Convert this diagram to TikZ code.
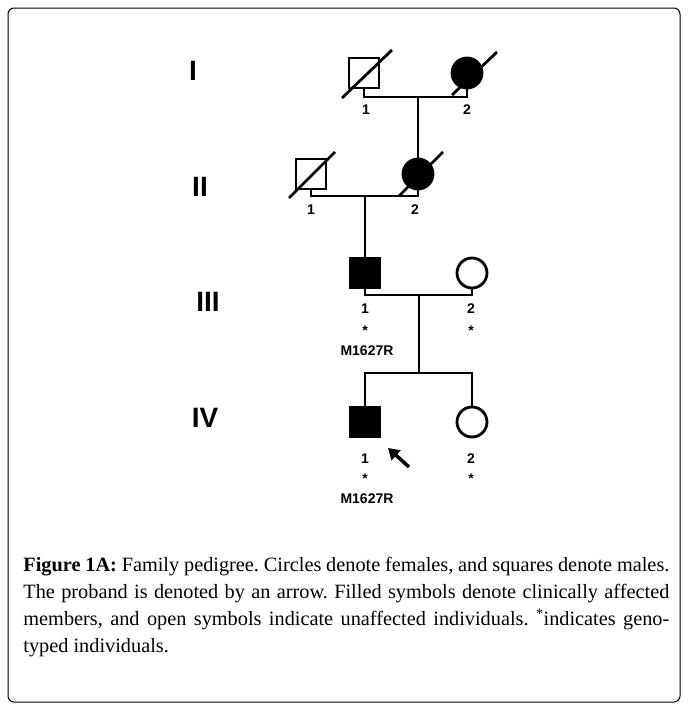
\documentclass[tikz,border=0pt]{standalone}
\usepackage{fontspec}
\usetikzlibrary{arrows.meta}
\setmainfont{Liberation Serif}
\newfontfamily\lsans{Liberation Sans}
\begin{document}
\begin{tikzpicture}[x=1pt,y=-1pt,line width=2.8pt,
  male/.style={draw,minimum size=30pt,inner sep=0pt,line width=2.8pt},
  female/.style={draw,circle,minimum size=30pt,inner sep=0pt,line width=2.8pt},
  gen/.style={font=\lsans\bfseries\fontsize{28}{28}\selectfont},
  lab/.style={font=\lsans\bfseries\fontsize{14}{14}\selectfont,inner sep=0pt},
  slash/.style={line width=2.8pt}]
\useasboundingbox (0,0) rectangle (688,712);
\draw[line width=1pt,rounded corners=6pt] (8,8) rectangle (680,702);
% generation labels
\node[gen] (gI) at (193,71) {I};
\node[gen] (gII) at (200,187) {II};
\node[gen] (gIII) at (208,302) {III};
\node[gen] (gIV) at (205,418) {IV};
% Gen I
\node[male] (i1) at (364,73) {};
\node[female,fill=black] (i2) at (467,73) {};
\coordinate (m1) at (418,97);
\draw (i1.south) -- (364,97) -- (467,97) -- (i2.south);
\draw[slash] (342,98) -- (392,50);
\draw[slash] (452,95) -- (497,52);
\node[lab] (l11) at (366,110) {1};
\node[lab] (l12) at (467,110) {2};
% Gen II
\node[male] (ii1) at (311,174) {};
\node[female,fill=black] (ii2) at (418,174) {};
\draw (m1) -- (ii2.north);
\draw (ii1.south) -- (311,196) -- (418,196) -- (ii2.south);
\draw[slash] (289,198) -- (335,152);
\draw[slash] (399,196) -- (443,152);
\node[lab] (l21) at (311,210) {1};
\node[lab] (l22) at (415,210) {2};
\coordinate (m2) at (365,196);
% Gen III
\node[male,fill=black] (iii1) at (365,273) {};
\node[female] (iii2) at (472,273) {};
\draw (m2) -- (iii1.north);
\draw (iii1.south) -- (365,295) -- (472,295) -- (iii2.south);
\coordinate (m3) at (419,295);
\coordinate (s3) at (419,373);
\draw (m3) -- (s3);
\node[lab] (l31) at (365,309) {1};
\node[lab] (s31) at (365,331) {*};
\node[lab] (g31) at (367,351) {M1627R};
\node[lab] (l32) at (471,309) {2};
\node[lab] (s32) at (471,331) {*};
% Gen IV
\node[male,fill=black] (iv1) at (365,422) {};
\node[female] (iv2) at (472,422) {};
\draw (iv1.north) -- (365,373) -- (472,373) -- (iv2.north);
\node[lab] (l41) at (365,459) {1};
\node[lab] (s41) at (365,479) {*};
\node[lab] (g41) at (367,499) {M1627R};
\node[lab] (l42) at (471,459) {2};
\node[lab] (s42) at (471,479) {*};
\coordinate (a1) at (409,467);
\coordinate (a2) at (388,448);
\draw[line width=3.5pt,-{Triangle[length=11pt,width=13pt]}] (a1) -- (a2);
% caption
\node[anchor=north west,inner sep=0pt,text width=646pt,align=justify,
  font=\fontsize{20.3}{27}\selectfont] (cap) at (22,556)
{\frenchspacing\textbf{Figure 1A:} Family pedigree. Circles denote females, and squares denote males. The proband is denoted by an arrow. Filled symbols denote clinically affected members, and open symbols indicate unaffected individuals. \textsuperscript{*}indicates genotyped individuals.\par};
\end{tikzpicture}
\end{document}
